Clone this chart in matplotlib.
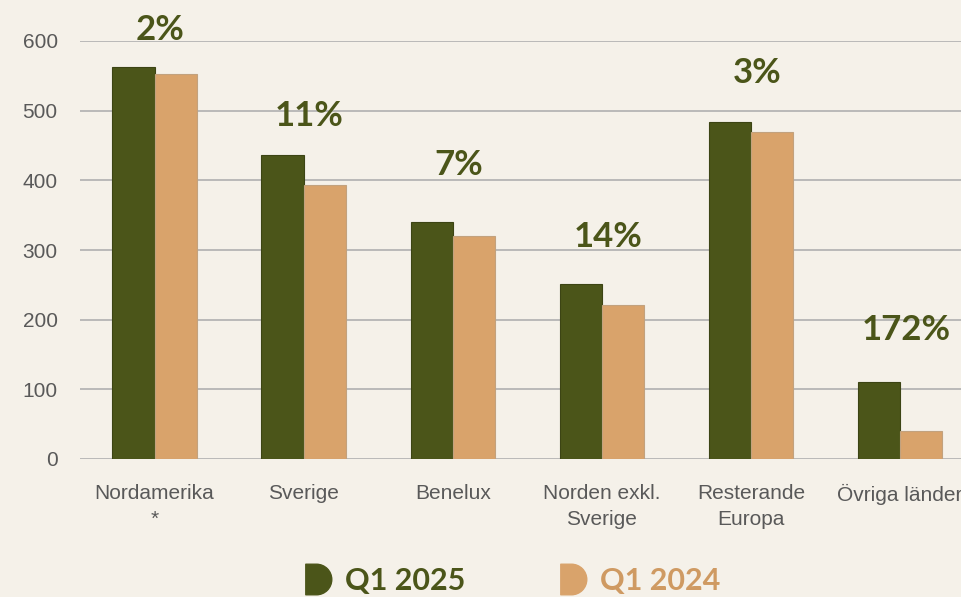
import matplotlib.pyplot as plt
import numpy as np
from matplotlib.path import Path
from matplotlib.lines import Line2D

# data
categories = ["Nordamerika\n*", "Sverige", "Benelux", "Norden exkl.\nSverige",
              "Resterande\nEuropa", "Övriga länder"]
q1_2025 = [563, 436, 340, 251, 484, 110]
q1_2024 = [553, 393, 320, 221, 469, 40]
growth_labels = ["2%", "11%", "7%", "14%", "3%", "172%"]
yticks = [0, 100, 200, 300, 400, 500, 600]

# annotation placement (data units)
label_y = [616, 492, 422, 319, 554, 185]

GREEN = "#4b5519"
TAN = "#d9a36b"
BG = "#f5f1e9"

fig = plt.figure(figsize=(9.61, 5.97), dpi=100, facecolor=BG)
ax = fig.add_axes([80 / 961, 138 / 597, 894.5 / 961, 418 / 597])
ax.set_facecolor(BG)

x = np.arange(len(categories))
w = 0.283
ax.bar(x - w / 2, q1_2025, w, color=GREEN, edgecolor="#3c4414", linewidth=0.8, zorder=3)
ax.bar(x + w / 2, q1_2024, w, color=TAN, edgecolor="#c2a27e", linewidth=0.8, zorder=3)

for xi, lab, yy in zip(x, growth_labels, label_y):
    ax.text(xi + 0.04, yy, lab, ha="center", va="center", fontsize=25,
            fontweight="bold", family=["Lato", "DejaVu Sans"], color=GREEN,
            clip_on=False, zorder=4)

ax.set_xlim(-0.5, len(categories) - 0.5)
ax.set_ylim(0, 600)
ax.set_yticks(yticks)
ax.yaxis.grid(True, color="#b0b0b0", linewidth=1.2, zorder=0)
ax.set_axisbelow(True)
for s in ax.spines.values():
    s.set_visible(False)
ax.tick_params(length=0, labelsize=15, labelcolor="#595959")
ax.tick_params(axis="y", pad=16)
ax.tick_params(axis="x", pad=18)
ax.set_xticks(x)
ax.set_xticklabels(categories, family="Liberation Sans", linespacing=1.45)
for t in ax.get_yticklabels():
    t.set_family("Liberation Sans")

# D-shaped legend marker
arc = Path.arc(-90, 90)
verts = [(-0.7, -1.0), (0.0, -1.0)] + [tuple(v) for v in arc.vertices[1:]] + [(-0.7, 1.0), (-0.7, -1.0)]
codes = [Path.MOVETO, Path.LINETO] + list(arc.codes[1:]) + [Path.LINETO, Path.CLOSEPOLY]
dmark = Path(verts, codes)

handles = [
    Line2D([], [], linestyle="none", marker=dmark, markersize=22, color=GREEN),
    Line2D([], [], linestyle="none", marker=dmark, markersize=22, color=TAN),
]
leg = fig.legend(handles, ["Q1 2025", "Q1 2024"], loc="center", bbox_to_anchor=(510 / 961, 1 - 581 / 597),
                 ncol=2, frameon=False, handlelength=1.1, handletextpad=0.4, columnspacing=2.9,
                 prop={"family": ["Lato", "DejaVu Sans"], "weight": "bold", "size": 22},
                 labelcolor=[GREEN, "#cf9a62"])

fig.savefig("out.png", dpi=100, facecolor=BG)
